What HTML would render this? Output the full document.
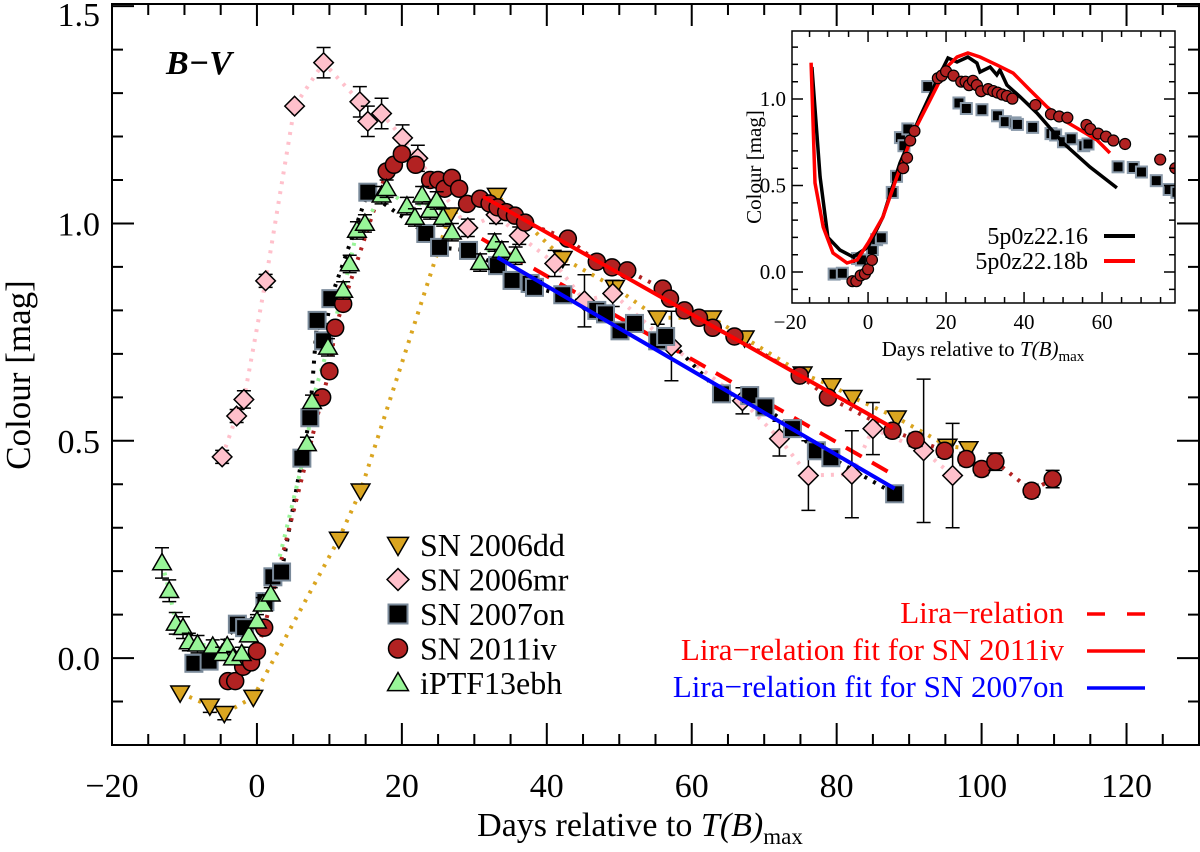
<!DOCTYPE html>
<html><head><meta charset="utf-8"><style>
html,body{margin:0;padding:0;background:#fff}
svg{display:block;font-family:"Liberation Serif",serif}
</style></head><body>
<svg id="chart" width="1200" height="852" viewBox="0 0 1200 852" xmlns="http://www.w3.org/2000/svg">
<defs>
<clipPath id="mainclip"><rect x="112" y="4" width="1087" height="741"/></clipPath>
<clipPath id="insclip"><rect x="792" y="31" width="383" height="272"/></clipPath>
</defs>
<g id="main"></g>
<g id="inset"></g>
</svg>
<script>
// ---- data: [day, colour, error] ----
const sn2006dd = [[-10.6,-0.08,0.01],[-6.5,-0.11,0.015],[-4.5,-0.127,0.015],[-0.5,-0.09,0.01],[11.3,0.274,0.01],[14.3,0.385,0.01],[26.6,1.02,0.01],[33.1,1.065,0.01],[42.2,0.92,0.015],[49.4,0.853,0.015],[55.3,0.783,0.015],[62.8,0.783,0.01],[67.3,0.737,0.01],[75.3,0.654,0.01],[79.3,0.627,0.01],[82.2,0.60,0.01],[88.3,0.553,0.01],[95.3,0.488,0.01],[98.2,0.482,0.01]];
const sn2006mr = [[-4.8,0.463,0.015],[-2.8,0.557,0.015],[-1.8,0.595,0.02],[1.2,0.868,0.015],[5.2,1.27,0.01],[9.2,1.37,0.035],[14.2,1.28,0.035],[15.3,1.235,0.035],[17.2,1.253,0.035],[20.1,1.197,0.03],[22.2,1.15,0.03],[29.1,0.99,0.02],[33,1.02,0.02],[36.2,0.972,0.02],[41.1,0.908,0.03],[45.2,0.822,0.06],[49.1,0.839,0.03],[57.2,0.718,0.08],[67,0.592,0.03],[72.1,0.505,0.04],[76.1,0.42,0.08],[82.1,0.423,0.1],[85,0.528,0.06],[92,0.477,0.165],[96,0.42,0.12]];
const sn2007on = [[-8.7,-0.012,0.01],[-6.6,-0.007,0.015],[-2.7,0.078,0.01],[-1.7,0.07,0.01],[1.1,0.13,0.01],[2.2,0.187,0.01],[3.4,0.198,0.01],[6.2,0.46,0.01],[7.3,0.553,0.01],[8.3,0.777,0.01],[9.2,0.73,0.01],[10.2,0.827,0.01],[15.3,1.072,0.01],[23.3,0.977,0.01],[25.2,0.945,0.01],[29.2,0.938,0.01],[33.2,0.903,0.01],[35.2,0.869,0.01],[37.7,0.862,0.01],[38.3,0.853,0.01],[42.2,0.836,0.01],[46.9,0.80,0.01],[48.1,0.792,0.01],[50.1,0.753,0.01],[52.1,0.77,0.01],[55.3,0.73,0.01],[56.4,0.74,0.01],[64.1,0.608,0.01],[68,0.604,0.01],[70.1,0.578,0.01],[73.9,0.528,0.01],[77.2,0.477,0.01],[79.2,0.461,0.01],[88,0.378,0.01]];
const sn2011iv = [[-4,-0.053,0.01],[-3,-0.053,0.01],[-1.9,-0.02,0.01],[-0.8,-0.01,0.01],[0,0.016,0.01],[1,0.07,0.01],[9,0.6,0.01],[10,0.66,0.01],[10.8,0.76,0.01],[11.9,0.815,0.01],[17.9,1.12,0.01],[18.9,1.135,0.01],[20,1.16,0.01],[21.9,1.135,0.01],[23.9,1.10,0.01],[25,1.10,0.01],[25.9,1.08,0.01],[26.9,1.105,0.01],[27.9,1.08,0.01],[29,1.045,0.01],[30.8,1.057,0.01],[32.1,1.046,0.01],[33.2,1.037,0.01],[34.4,1.026,0.01],[35.6,1.018,0.01],[37,1.002,0.01],[42.9,0.965,0.01],[46.9,0.912,0.01],[49,0.899,0.01],[51.1,0.892,0.01],[56,0.85,0.01],[57,0.827,0.01],[59,0.80,0.01],[61,0.783,0.01],[62.9,0.76,0.01],[65.9,0.74,0.01],[74.9,0.65,0.01],[78.8,0.60,0.01],[87.7,0.523,0.015],[90.9,0.502,0.015],[94.9,0.477,0.015],[97.9,0.458,0.015],[100,0.435,0.015],[101.9,0.452,0.02],[106.9,0.385,0.015],[109.8,0.412,0.02]];
const ptf13ebh = [[-13.1,0.219,0.035],[-12.1,0.155,0.025],[-11.2,0.08,0.025],[-10.2,0.07,0.025],[-9.4,0.037,0.02],[-8.2,0.032,0.02],[-6.1,0.027,0.015],[-4.8,0.01,0.015],[-4.1,0.028,0.015],[-3.3,0.0,0.015],[-2.1,0.01,0.015],[-1.1,0.053,0.015],[0,0.085,0.015],[0.8,0.124,0.015],[1.9,0.147,0.015],[6.9,0.493,0.015],[7.6,0.59,0.015],[9.8,0.715,0.02],[11.9,0.846,0.02],[12.8,0.907,0.02],[13.8,0.984,0.02],[14.9,1.0,0.02],[17.2,1.065,0.02],[17.9,1.08,0.02],[20.7,1.04,0.02],[21.8,1.014,0.02],[22.8,1.065,0.02],[23.9,1.03,0.02],[24.8,1.053,0.02],[25.7,1.014,0.02],[26.9,0.98,0.02],[30.8,0.91,0.02],[32.8,0.956,0.02],[33.8,0.938,0.02],[35.7,0.926,0.02]];
const liraRelation = [[31,0.965],[88,0.42]];
const liraFit2011iv = [[31.2,1.062],[87.7,0.53]];
const liraFit2007on = [[33.2,0.922],[88,0.39]];
const model16 = [[-14.4,1.185],[-12.3,0.549],[-10.3,0.2],[-7.2,0.127],[-3.8,0.087],[0,0.145],[3.8,0.318],[8.2,0.63],[13.3,0.896],[17.7,1.11],[20.5,1.237],[22.8,1.214],[25.6,1.243],[27.9,1.208],[28.7,1.156],[31.3,1.185],[33,1.139],[33.8,1.168],[35.6,1.081],[39,1.012],[43.3,0.919],[50,0.746],[56.9,0.607],[63.8,0.486]];
const model18b = [[-14.6,1.21],[-13.6,0.515],[-11.5,0.26],[-9,0.11],[-5.4,0.052],[-2.8,0.07],[0,0.168],[3.8,0.318],[7.4,0.55],[11.5,0.80],[15.9,0.994],[20.2,1.185],[22.8,1.243],[25.6,1.266],[28.7,1.243],[33,1.197],[37.2,1.15],[41.5,1.052],[45.9,0.954],[50,0.879],[54.4,0.821],[58.7,0.763],[62,0.688]];
const xTicks = [-20,0,20,40,60,80,100,120];
const xTickLabels = ["\u221220","0","20","40","60","80","100","120"];
const yTicks = [0,0.5,1.0,1.5];
const yTickLabels = ["0.0","0.5","1.0","1.5"];
const insXTicks = [-20,0,20,40,60];
const insXTickLabels = ["\u221220","0","20","40","60"];
const insYTicks = [0,0.5,1.0];
const insYTickLabels = ["0.0","0.5","1.0"];

const NS="http://www.w3.org/2000/svg";
function mk(tag,attrs,parent){const e=document.createElementNS(NS,tag);for(const k in attrs)e.setAttribute(k,attrs[k]);parent.appendChild(e);return e;}

const X0=-20,X1=130,Y0=-0.2,Y1=1.505;
const L=112,R=1199,T=4,B=745;
const sx=v=>L+(v-X0)/(X1-X0)*(R-L);
const sy=v=>B-(v-Y0)/(Y1-Y0)*(B-T);
const IX0=-19.5,IX1=78.7,IY0=-0.179,IY1=1.393;
const IL=792,IR=1175,IT=31,IB=303;
const ix=v=>IL+(v-IX0)/(IX1-IX0)*(IR-IL);
const iy=v=>IB-(v-IY0)/(IY1-IY0)*(IB-IT);

const main=document.getElementById('main');
const inset=document.getElementById('inset');

function pathFrom(arr,fx,fy){return arr.map((p,i)=>(i?'L':'M')+fx(p[0]).toFixed(1)+' '+fy(p[1]).toFixed(1)).join(' ');}

const plotG=mk('g',{'clip-path':'url(#mainclip)'},main);



const series=[
 {d:sn2006dd,name:'sn2006dd',fill:'#DAA520',line:'#DAA520',shape:'dtri'},
 {d:sn2006mr,name:'sn2006mr',fill:'#FFC0CB',line:'#FFC0CB',shape:'diamond'},
 {d:sn2007on,name:'sn2007on',fill:'#000',line:'#000',shape:'square'},
 {d:sn2011iv,name:'sn2011iv',fill:'#B22222',line:'#B22222',shape:'circle'},
 {d:ptf13ebh,name:'iptf13ebh',fill:'#98F598',line:'#98F598',shape:'utri'}
];
series.forEach(s=>{
 const p=mk('path',{d:pathFrom(s.d,sx,sy),fill:'none',stroke:s.line,'stroke-width':4,'stroke-dasharray':'3 7'},plotG);
 
 
});
const ll=mk('path',{d:pathFrom(liraRelation,sx,sy),stroke:'#f00','stroke-width':4,'stroke-dasharray':'18 12',fill:'none'},plotG);



function marker(g,shape,cx,cy,s,fill,stroke,sw){
 let e;
 if(shape==='circle') e=mk('circle',{cx:cx,cy:cy,r:s,fill:fill,stroke:stroke,'stroke-width':sw},g);
 else if(shape==='square') e=mk('rect',{x:cx-s,y:cy-s,width:2*s,height:2*s,fill:fill,stroke:stroke,'stroke-width':sw},g);
 else if(shape==='diamond') e=mk('polygon',{points:`${cx},${cy-s*1.15} ${cx+s*1.15},${cy} ${cx},${cy+s*1.15} ${cx-s*1.15},${cy}`,fill:fill,stroke:stroke,'stroke-width':sw},g);
 else if(shape==='dtri') e=mk('polygon',{points:`${cx-s*1.1},${cy-s*0.8} ${cx+s*1.1},${cy-s*0.8} ${cx},${cy+s*1.1}`,fill:fill,stroke:stroke,'stroke-width':sw},g);
 else e=mk('polygon',{points:`${cx-s*1.1},${cy+s*0.8} ${cx+s*1.1},${cy+s*0.8} ${cx},${cy-s*1.1}`,fill:fill,stroke:stroke,'stroke-width':sw},g);
 return e;
}
series.forEach(s=>{
 const g=mk('g',{},plotG);
 
 
 s.d.forEach(p=>{
  const cx=sx(p[0]),cy=sy(p[1]);
  if(p[2]>0.012){
   const y1=sy(p[1]+p[2]),y2=sy(p[1]-p[2]);
   mk('path',{d:`M${cx} ${y1} V${y2} M${cx-7} ${y1} H${cx+7} M${cx-7} ${y2} H${cx+7}`,stroke:'#000','stroke-width':1.5,fill:'none'},g);
  }
  const m=marker(g,s.shape,cx,cy,8.5,s.fill,s.shape==='square'?'#7a8a9a':'#000',s.shape==='square'?2:1.5);
  
  
 });
});
const f1=mk('path',{d:pathFrom(liraFit2011iv,sx,sy),stroke:'#f00','stroke-width':4,fill:'none'},plotG);


const f2=mk('path',{d:pathFrom(liraFit2007on,sx,sy),stroke:'#00f','stroke-width':4,fill:'none'},plotG);



const fr=mk('rect',{x:L,y:T,width:R-L,height:B-T,fill:'none',stroke:'#000','stroke-width':2},main);


let tk='';
for(let v=-20;v<=130;v+=5){const x=sx(v);const len=(v%20===0)?22:11;tk+=`M${x} ${B}V${B-len}M${x} ${T}V${T+len}`;}
for(let v=-0.2;v<=1.5001;v+=0.1){const y=sy(v);const len=(Math.abs(v*2-Math.round(v*2))<1e-6)?22:11;tk+=`M${L} ${y}H${L+len}M${R} ${y}H${R-len}`;}
const tkp=mk('path',{d:tk,stroke:'#000','stroke-width':2,fill:'none'},main);


xTicks.forEach((v,i)=>{const t=mk('text',{x:sx(v),y:797,'font-size':34,'text-anchor':'middle'},main);t.textContent=xTickLabels[i];
 
 });
yTicks.forEach((v,i)=>{const yy=Math.max(sy(v)+12,26);const t=mk('text',{x:100,y:yy,'font-size':34,'text-anchor':'end'},main);t.textContent=yTickLabels[i];
 
 });
</script>
<script>
(function(){
const NS="http://www.w3.org/2000/svg";const svg=document.getElementById('chart');
function tx(x,y,s,html,attrs,name){const t=document.createElementNS(NS,'text');t.setAttribute('x',x);t.setAttribute('y',y);t.setAttribute('font-size',s);for(const k in attrs)t.setAttribute(k,attrs[k]);t.innerHTML=html;svg.appendChild(t);return t;}
tx(640,836,34,'Days relative to <tspan font-style="italic">T(B)</tspan><tspan font-size="23" dy="8">max</tspan>',{'text-anchor':'middle'},'x-axis-title');
tx(0,0,35,'Colour [mag]',{'text-anchor':'middle',transform:'translate(30,375) rotate(-90)'},'y-axis-title');
tx(166,74,34,'B\u2212V',{'font-style':'italic','font-weight':'bold'},'panel-label');
})();
</script>
<script>
const NS2="http://www.w3.org/2000/svg";
const svgEl=document.getElementById('chart');
function mk2(tag,attrs,parent){const e=document.createElementNS(NS2,tag);for(const k in attrs)e.setAttribute(k,attrs[k]);parent.appendChild(e);return e;}
const legG=mk2('g',{},svgEl);


const legNames=['SN 2006dd','SN 2006mr','SN 2007on','SN 2011iv','iPTF13ebh'];
series.forEach((s,i)=>{
 const cy=545+i*34.5;
 const m=marker(legG,s.shape,398,cy,9.5,s.fill,s.shape==='square'?'#7a8a9a':'#000',s.shape==='square'?2:1.5);
 
 
 const t=mk2('text',{x:420,y:cy+11,'font-size':32},legG);t.textContent=legNames[i];
 
 
});
const lira=[['Lira\u2212relation','#f00','18 22'],['Lira\u2212relation fit for SN 2011iv','#f00',''],['Lira\u2212relation fit for SN 2007on','#00f','']];
lira.forEach((l,i)=>{
 const y=612+i*37;
 const t=mk2('text',{x:1064,y:y+11,'font-size':31,'text-anchor':'end',fill:l[1]},legG);t.textContent=l[0];
 
 
 const ln=mk2('line',{x1:1087,x2:1145,y1:y+2,y2:y+2,stroke:l[1],'stroke-width':3.5},legG);
 if(l[2])ln.setAttribute('stroke-dasharray',l[2]);
 
 
});

const insG=document.getElementById('inset');
mk2('rect',{x:IL,y:IT,width:IR-IL,height:IB-IT,fill:'#fff',stroke:'none'},insG);
const ic=mk2('g',{'clip-path':'url(#insclip)'},insG);


const isq=mk2('g',{},ic);


sn2007on.forEach(p=>{const m=marker(isq,'square',ix(p[0]),iy(p[1]),5.5,'#000','#8a9aaa',2);
 
 });
const m16=mk2('path',{d:pathFrom(model16,ix,iy),stroke:'#000','stroke-width':3.5,fill:'none'},ic);


const m18=mk2('path',{d:pathFrom(model18b,ix,iy),stroke:'#f00','stroke-width':3.5,fill:'none'},ic);


const icir=mk2('g',{},ic);


sn2011iv.forEach(p=>{const m=marker(icir,'circle',ix(p[0]),iy(p[1]),5.5,'#B22222','#000',1.2);
 
 });
const ifr=mk2('rect',{x:IL,y:IT,width:IR-IL,height:IB-IT,fill:'none',stroke:'#000','stroke-width':1.5},insG);


let itk='';
for(let v=-15;v<=75;v+=5){const x=ix(v);const len=(v%20===0)?11:6;itk+=`M${x} ${IB}V${IB-len}M${x} ${IT}V${IT+len}`;}
for(let v=-0.1;v<=1.3001;v+=0.1){const y=iy(v);const len=(Math.abs(v*2-Math.round(v*2))<1e-6)?11:6;itk+=`M${IL} ${y}H${IL+len}M${IR} ${y}H${IR-len}`;}
const itp=mk2('path',{d:itk,stroke:'#000','stroke-width':1.5,fill:'none'},insG);


insXTicks.forEach((v,i)=>{const t=mk2('text',{x:ix(v),y:329,'font-size':21,'text-anchor':'middle'},insG);t.textContent=insXTickLabels[i];
 
 });
insYTicks.forEach((v,i)=>{const t=mk2('text',{x:786,y:iy(v)+7,'font-size':21,'text-anchor':'end'},insG);t.textContent=insYTickLabels[i];
 
 });
const ixt=mk2('text',{x:983,y:356,'font-size':21,'text-anchor':'middle'},insG);
ixt.innerHTML='Days relative to <tspan font-style="italic">T(B)</tspan><tspan font-size="15" dy="5">max</tspan>';


const iyt=mk2('text',{x:0,y:0,'font-size':21,'text-anchor':'middle',transform:'translate(761,167) rotate(-90)'},insG);
iyt.textContent='Colour [mag]';


[['5p0z22.16','#000'],['5p0z22.18b','#f00']].forEach((l,i)=>{
 const y=236+i*25;
 const t=mk2('text',{x:1088,y:y+8,'font-size':24,'text-anchor':'end'},insG);t.textContent=l[0];
 
 
 const ln=mk2('line',{x1:1104,x2:1135,y1:y,y2:y,stroke:l[1],'stroke-width':4},insG);
 
 
});
</script>
</body></html>
